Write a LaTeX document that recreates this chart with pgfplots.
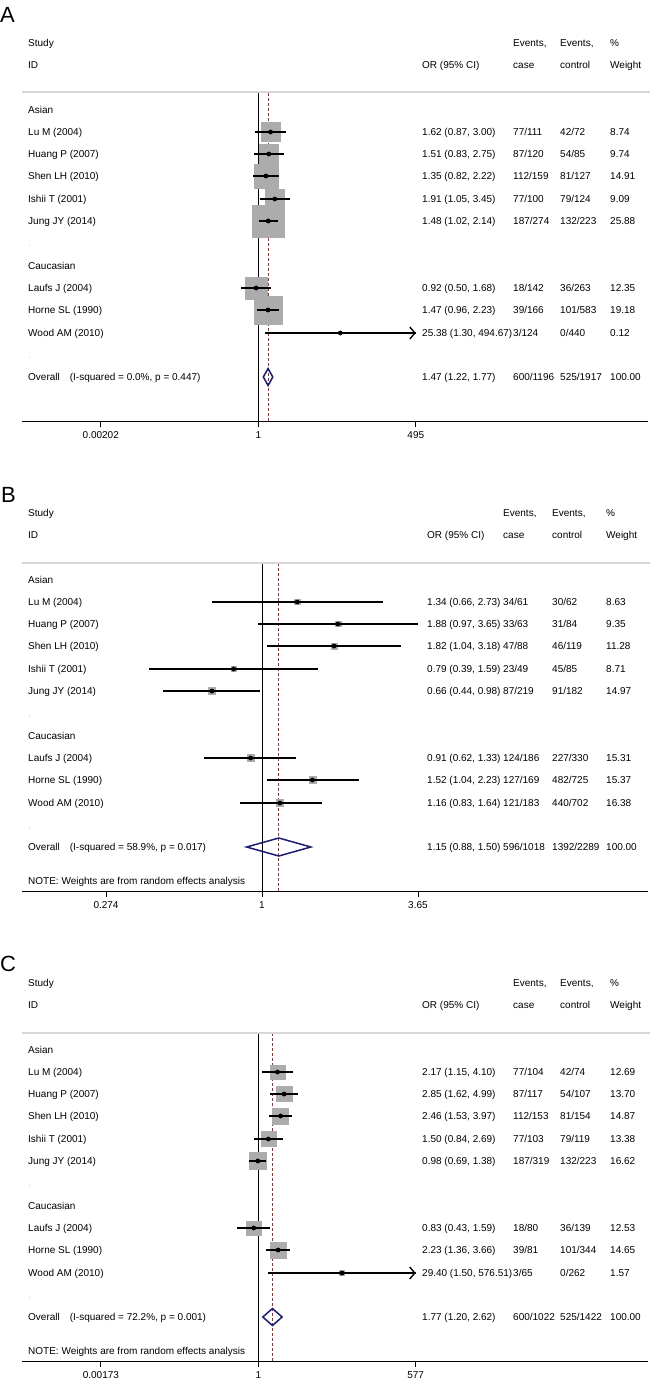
\documentclass[border=0pt]{standalone}
\usepackage{fontspec}
\setmainfont{Liberation Sans}
\usepackage{pgfplots}
\pgfplotsset{compat=1.18}
\usepackage{pgfplotstable}
\usetikzlibrary{arrows.meta}

\definecolor{boxgray}{RGB}{172,172,172}
\definecolor{navyd}{RGB}{28,28,112}
\definecolor{refred}{RGB}{170,40,40}
\definecolor{rulegray}{RGB}{215,215,215}
\newcommand\fs{\fontsize{10}{11}\selectfont}

% ---------------- data (y = -row position, OR, lower, upper, weight)
\pgfplotstableread{
y or lo hi w
-132 1.62 0.87 3.00 8.74
-154 1.51 0.83 2.75 9.74
-176 1.35 0.82 2.22 14.91
-199 1.91 1.05 3.45 9.09
-221 1.48 1.02 2.14 25.88
-288 0.92 0.50 1.68 12.35
-310 1.47 0.96 2.23 19.18
-333 25.38 1.30 494.67 0.12
}\dataA
\pgfplotstableread{
y or lo hi w
-132 1.34 0.66 2.73 8.63
-154 1.88 0.97 3.65 9.35
-176 1.82 1.04 3.18 11.28
-199 0.79 0.39 1.59 8.71
-221 0.66 0.44 0.98 14.97
-288 0.91 0.62 1.33 15.31
-310 1.52 1.04 2.23 15.37
-333 1.16 0.83 1.64 16.38
}\dataB
\pgfplotstableread{
y or lo hi w
-132 2.17 1.15 4.10 12.69
-154 2.85 1.62 4.99 13.70
-176 2.46 1.53 3.97 14.87
-199 1.50 0.84 2.69 13.38
-221 0.98 0.69 1.38 16.62
-288 0.83 0.43 1.59 12.53
-310 2.23 1.36 3.66 14.65
-333 29.40 1.50 576.51 1.57
}\dataC

\pgfplotsset{every axis/.append style={
  scale only axis, width=626pt, height=328pt, xmode=log,
  ymin=-421, ymax=-93, clip=false, anchor=north west,
  axis y line=none, axis x line*=bottom,
  axis line style={-, line width=0.9pt, black},
  tick align=outside, major tick length=6pt,
  xtick style={line width=0.9pt, black},
  xticklabel style={font=\fs, yshift=-1pt},
}}

\newcommand\setcols[5]{\def\off{#1}\def\cOR{#2}\def\cCase{#3}\def\cCtl{#4}\def\cW{#5}}
\newcommand\txt[3]{\node[lab] at (#1,{-(#2+\off+3.6)}) {#3};}
\newcommand\rowtxt[6]{%
  \txt{28}{#1}{#2}\txt{\cOR}{#1}{#3}\txt{\cCase}{#1}{#4}\txt{\cCtl}{#1}{#5}\txt{\cW}{#1}{#6}}
\newcommand\header{%
  \txt{28}{43}{Study}\txt{28}{65}{ID}\txt{\cOR}{65}{OR (95\% CI)}
  \txt{\cCase}{43}{Events,}\txt{\cCase}{65}{case}
  \txt{\cCtl}{43}{Events,}\txt{\cCtl}{65}{control}
  \txt{\cW}{43}{\%}\txt{\cW}{65}{Weight}
  \txt{28}{110}{Asian}\txt{28}{266}{Caucasian}
  \node[lab, text=gray!45] at (28,{-(243+\off+3.6)}) {.};
  \node[lab, text=gray!45] at (28,{-(355+\off+3.6)}) {.};
  \draw[rulegray, line width=2pt] (22,{-(92.5+\off)}) -- (650,{-(92.5+\off)});}

% CI segments and point estimates (in an overlay axis, above the boxes)
\newcommand\cilines[1]{%
  \addplot[only marks, mark=none, error bars/x dir=both, error bars/x explicit, error bars/error mark=none,
    error bars/error bar style={line width=2pt, draw=black}]
    table[x=or, y=y, x error plus expr=\thisrow{hi}-\thisrow{or}, x error minus expr=\thisrow{or}-\thisrow{lo}] {#1};}
\newcommand\pointdots[1]{\addplot[only marks, mark=*, mark size=2.1pt, black] table[x=or, y=y] {#1};}
\newcommand\weightboxes[2]{%
  \addplot[only marks, mark=square*, scatter, scatter/use mapped color={draw=boxgray, fill=boxgray},
    visualization depends on={#1*sqrt(\thisrow{w}) \as \msz},
    scatter/@pre marker code/.append style={/tikz/mark size=\msz}] table[x=or, y=y] {#2};}

\begin{document}
\begin{tikzpicture}[x=1pt, y=1pt, lab/.style={anchor=base west, inner sep=0pt, font=\fs}]
\useasboundingbox (0,0) rectangle (655,-1386);

% ================= Panel A
\begin{axis}[at={(22pt,-93pt)}, xmin=9.06e-5, xmax=4.65e6,
  xtick={0.00202,1,495}, xticklabels={0.00202,1,495}]
\addplot[black, line width=0.9pt] coordinates {(1,-93) (1,-421)};
\addplot[refred, line width=0.8pt, dash pattern=on 3pt off 2pt] coordinates {(1.47,-93) (1.47,-421)};
\weightboxes{3.15}{\dataA}
\end{axis}
\begin{axis}[hide axis, at={(22pt,-93pt)}, xmin=9.06e-5, xmax=4.65e6]
\cilines{\dataA}
\addplot[black, line width=2pt, -{Straight Barb[length=5pt, width=12pt, line width=1.4pt]}] coordinates {(1.30,-333) (494.67,-333)};
\pointdots{\dataA}
\addplot[navyd, line width=1.5pt] coordinates {(1.22,-377) (1.47,-368.5) (1.77,-377) (1.47,-385.5)} --cycle;
\end{axis}

% ================= Panel B
\begin{axis}[at={(22pt,-563pt)}, xmin=0.1364, xmax=24.63,
  xtick={0.274,1,3.65}, xticklabels={0.274,1,3.65}]
\addplot[black, line width=0.9pt] coordinates {(1,-93) (1,-421)};
\addplot[refred, line width=0.8pt, dash pattern=on 3pt off 2pt] coordinates {(1.15,-93) (1.15,-421)};
\weightboxes{0.875}{\dataB}
\end{axis}
\begin{axis}[hide axis, at={(22pt,-563pt)}, xmin=0.1364, xmax=24.63]
\cilines{\dataB}
\pointdots{\dataB}
\addplot[navyd, line width=1.5pt] coordinates {(0.88,-377) (1.15,-368) (1.50,-377) (1.15,-386)} --cycle;
\end{axis}

% ================= Panel C
\begin{axis}[at={(22pt,-1033pt)}, xmin=7.152e-5, xmax=6.867e6,
  xtick={0.00173,1,577}, xticklabels={0.00173,1,577}]
\addplot[black, line width=0.9pt] coordinates {(1,-93) (1,-421)};
\addplot[refred, line width=0.8pt, dash pattern=on 3pt off 2pt] coordinates {(1.77,-93) (1.77,-421)};
\weightboxes{2.05}{\dataC}
\end{axis}
\begin{axis}[hide axis, at={(22pt,-1033pt)}, xmin=7.152e-5, xmax=6.867e6]
\cilines{\dataC}
\addplot[black, line width=2pt, -{Straight Barb[length=5pt, width=12pt, line width=1.4pt]}] coordinates {(1.50,-333) (576.51,-333)};
\pointdots{\dataC}
\addplot[navyd, line width=1.5pt] coordinates {(1.20,-377) (1.77,-368.5) (2.62,-377) (1.77,-385.5)} --cycle;
\end{axis}

% ================= Panel labels
\node[anchor=base west, inner sep=0pt, font=\fontsize{22}{24}\selectfont] at (0,-22.7) {A};
\node[anchor=base west, inner sep=0pt, font=\fontsize{22}{24}\selectfont] at (1,-502) {B};
\node[anchor=base west, inner sep=0pt, font=\fontsize{22}{24}\selectfont] at (0,-971.5) {C};

% ================= Text, panel A
\setcols{0}{422}{513}{560}{610}
\header
\rowtxt{132}{Lu M (2004)}{1.62 (0.87, 3.00)}{77/111}{42/72}{8.74}
\rowtxt{154}{Huang P (2007)}{1.51 (0.83, 2.75)}{87/120}{54/85}{9.74}
\rowtxt{176}{Shen LH (2010)}{1.35 (0.82, 2.22)}{112/159}{81/127}{14.91}
\rowtxt{199}{Ishii T (2001)}{1.91 (1.05, 3.45)}{77/100}{79/124}{9.09}
\rowtxt{221}{Jung JY (2014)}{1.48 (1.02, 2.14)}{187/274}{132/223}{25.88}
\rowtxt{288}{Laufs J (2004)}{0.92 (0.50, 1.68)}{18/142}{36/263}{12.35}
\rowtxt{310}{Horne SL (1990)}{1.47 (0.96, 2.23)}{39/166}{101/583}{19.18}
\rowtxt{333}{Wood AM (2010)}{25.38 (1.30, 494.67)}{3/124}{0/440}{0.12}
\rowtxt{377}{Overall\hspace{10pt}(I-squared = 0.0\%, p = 0.447)}{1.47 (1.22, 1.77)}{600/1196}{525/1917}{100.00}

% ================= Text, panel B
\setcols{470}{427}{503}{552}{606}
\header
\rowtxt{132}{Lu M (2004)}{1.34 (0.66, 2.73)}{34/61}{30/62}{8.63}
\rowtxt{154}{Huang P (2007)}{1.88 (0.97, 3.65)}{33/63}{31/84}{9.35}
\rowtxt{176}{Shen LH (2010)}{1.82 (1.04, 3.18)}{47/88}{46/119}{11.28}
\rowtxt{199}{Ishii T (2001)}{0.79 (0.39, 1.59)}{23/49}{45/85}{8.71}
\rowtxt{221}{Jung JY (2014)}{0.66 (0.44, 0.98)}{87/219}{91/182}{14.97}
\rowtxt{288}{Laufs J (2004)}{0.91 (0.62, 1.33)}{124/186}{227/330}{15.31}
\rowtxt{310}{Horne SL (1990)}{1.52 (1.04, 2.23)}{127/169}{482/725}{15.37}
\rowtxt{333}{Wood AM (2010)}{1.16 (0.83, 1.64)}{121/183}{440/702}{16.38}
\rowtxt{377}{Overall\hspace{10pt}(I-squared = 58.9\%, p = 0.017)}{1.15 (0.88, 1.50)}{596/1018}{1392/2289}{100.00}
\txt{28}{411}{NOTE: Weights are from random effects analysis}

% ================= Text, panel C
\setcols{940}{422}{513}{560}{610}
\header
\rowtxt{132}{Lu M (2004)}{2.17 (1.15, 4.10)}{77/104}{42/74}{12.69}
\rowtxt{154}{Huang P (2007)}{2.85 (1.62, 4.99)}{87/117}{54/107}{13.70}
\rowtxt{176}{Shen LH (2010)}{2.46 (1.53, 3.97)}{112/153}{81/154}{14.87}
\rowtxt{199}{Ishii T (2001)}{1.50 (0.84, 2.69)}{77/103}{79/119}{13.38}
\rowtxt{221}{Jung JY (2014)}{0.98 (0.69, 1.38)}{187/319}{132/223}{16.62}
\rowtxt{288}{Laufs J (2004)}{0.83 (0.43, 1.59)}{18/80}{36/139}{12.53}
\rowtxt{310}{Horne SL (1990)}{2.23 (1.36, 3.66)}{39/81}{101/344}{14.65}
\rowtxt{333}{Wood AM (2010)}{29.40 (1.50, 576.51)}{3/65}{0/262}{1.57}
\rowtxt{377}{Overall\hspace{10pt}(I-squared = 72.2\%, p = 0.001)}{1.77 (1.20, 2.62)}{600/1022}{525/1422}{100.00}
\txt{28}{411}{NOTE: Weights are from random effects analysis}
\end{tikzpicture}
\end{document}
